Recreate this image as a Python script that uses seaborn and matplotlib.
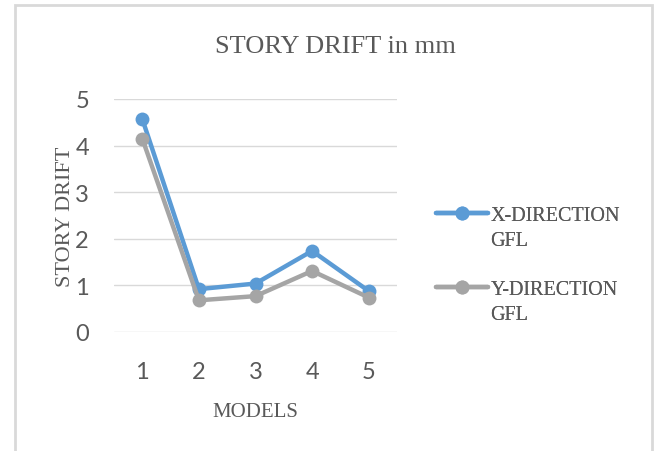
import matplotlib
matplotlib.use("Agg")
import matplotlib.pyplot as plt
import seaborn as sns
import pandas as pd
from matplotlib.patches import Rectangle
from matplotlib.lines import Line2D

models = ["1", "2", "3", "4", "5"]
x_direction = [4.57, 0.92, 1.04, 1.74, 0.88]
y_direction = [4.15, 0.68, 0.77, 1.31, 0.74]
series_names = ["X-DIRECTION", "Y-DIRECTION"]
series_suffix = "GFL"
colors = ["#5B9BD5", "#A5A5A5"]

df = pd.DataFrame({
    "model": models * 2,
    "pos": list(range(len(models))) * 2,
    "value": x_direction + y_direction,
    "series": [series_names[0]] * len(models) + [series_names[1]] * len(models),
})

sns.set_style("white")
plt.rcParams["font.family"] = ["Liberation Serif", "DejaVu Serif"]
txt = "#595959"
tick_font = ["Liberation Sans Narrow", "Lato", "DejaVu Sans"]

fig = plt.figure(figsize=(6.6, 4.52), dpi=100)
ax = fig.add_axes([114/660, 1-333/452, (397-114)/660, (333-100)/452])

sns.lineplot(data=df, x="pos", y="value", hue="series", palette=colors,
             marker="o", markersize=10, linewidth=3.2, markeredgewidth=0,
             ax=ax, legend=True, sort=False)

ax.set_xlim(-0.5, 4.5)
ax.set_ylim(0, 5)
ax.set_xticks(range(len(models)))
ax.set_xticklabels(models)
ax.set_yticks([0, 1, 2, 3, 4, 5])
ax.grid(axis="y", color="#D9D9D9", linewidth=1)
ax.set_axisbelow(True)
for s in ax.spines.values():
    s.set_visible(False)
ax.tick_params(axis="y", length=0, colors=txt, pad=18)
ax.tick_params(axis="x", length=0, colors=txt, pad=21)
for lab in ax.get_xticklabels() + ax.get_yticklabels():
    lab.set_fontfamily(tick_font)
    lab.set_fontsize(17)
ax.set_xlabel("MODELS", fontsize=15, color=txt, labelpad=14)
ax.set_ylabel("STORY DRIFT", fontsize=16, color=txt, labelpad=0)
fig.text(335/660, 1-47/452, "STORY DRIFT in mm", ha="center", va="center",
         fontsize=19, color=txt)

handles, labels = ax.get_legend_handles_labels()
if ax.get_legend():
    ax.get_legend().remove()
blank = Line2D([], [], linestyle="none", marker=None)
tops = [197, 271]
for i, h in enumerate(handles[:2]):
    leg = fig.legend([h, blank], [labels[i], series_suffix], loc="upper left",
                     bbox_to_anchor=(426/660, 1-tops[i]/452),
                     bbox_transform=fig.transFigure, frameon=False, fontsize=14.5,
                     handlelength=2.6, handletextpad=0.1, labelspacing=0.3,
                     labelcolor=txt, borderpad=0)
    fig.add_artist(leg)

fig.patches.append(Rectangle((15/660, -0.05), (652-15)/660, 1-6/452+0.05,
                             transform=fig.transFigure, fill=False,
                             edgecolor="#D9D9D9", linewidth=2))
fig.savefig("out.png", dpi=100, facecolor="white")
